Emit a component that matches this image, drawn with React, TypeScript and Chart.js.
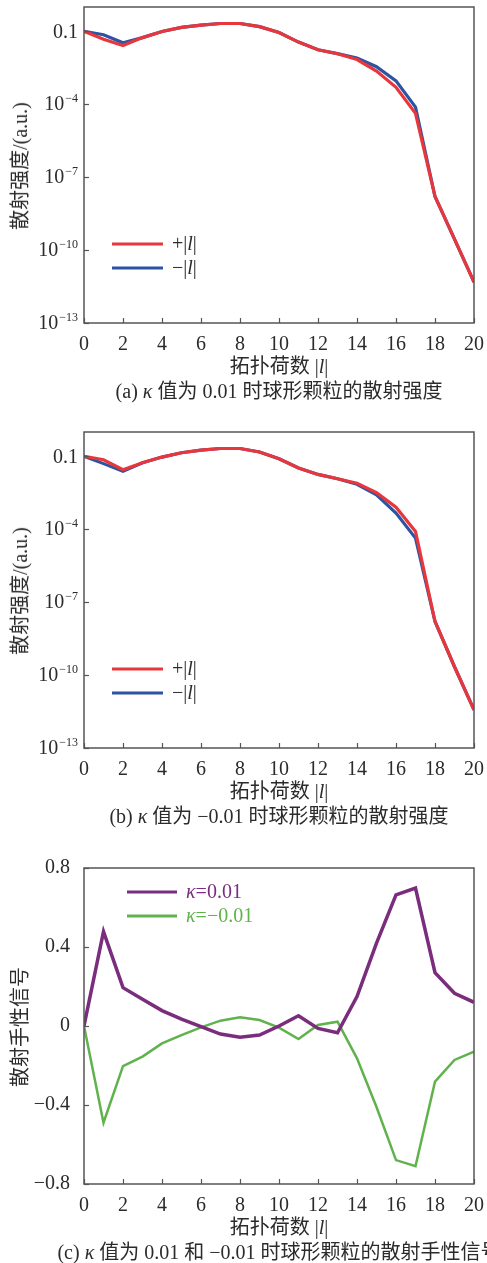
import React, { useEffect, useRef } from "react";
import { Chart, registerables } from "chart.js";

Chart.register(...registerables);

// ---------- data ----------
const lValues = [0, 1, 2, 3, 4, 5, 6, 7, 8, 9, 10, 11, 12, 13, 14, 15, 16, 17, 18, 19, 20];
const xTickValues = [0, 2, 4, 6, 8, 10, 12, 14, 16, 18, 20];

const logTickValues = [1e-13, 1e-10, 1e-7, 1e-4, 1e-1];
const logTickBases = ["10", "10", "10", "10", "0.1"];
const logTickExponents = ["−13", "−10", "−7", "−4", ""];

const chiTickValues = [-0.8, -0.4, 0, 0.4, 0.8];
const chiTickLabels = ["−0.8", "−0.4", "0", "0.4", "0.8"];

// (a) kappa = 0.01
const intensityAPlus = [1.0e-1, 4.7e-2, 2.6e-2, 5.5e-2, 9.8e-2, 1.45e-1, 1.8e-1, 2.1e-1, 2.1e-1, 1.55e-1, 8.9e-2, 3.6e-2, 1.75e-2, 1.2e-2, 6.9e-3, 2.3e-3, 5.0e-4, 4.2e-5, 1.6e-8, 2.8e-10, 4.8e-12];
const intensityAMinus = [1.0e-1, 7.2e-2, 3.4e-2, 5.5e-2, 9.8e-2, 1.45e-1, 1.8e-1, 2.1e-1, 2.1e-1, 1.55e-1, 8.9e-2, 3.6e-2, 1.75e-2, 1.2e-2, 7.9e-3, 3.5e-3, 9.1e-4, 7.6e-5, 1.6e-8, 2.8e-10, 4.8e-12];

// (b) kappa = -0.01
const intensityBPlus = [1.0e-1, 7.2e-2, 2.8e-2, 5.4e-2, 9.3e-2, 1.4e-1, 1.8e-1, 2.1e-1, 2.1e-1, 1.5e-1, 7.9e-2, 3.3e-2, 1.8e-2, 1.2e-2, 7.8e-3, 3.2e-3, 8.1e-4, 8.1e-5, 1.6e-8, 2.2e-10, 3.7e-12];
const intensityBMinus = [1.0e-1, 5.0e-2, 2.4e-2, 5.4e-2, 9.3e-2, 1.4e-1, 1.8e-1, 2.1e-1, 2.1e-1, 1.5e-1, 7.9e-2, 3.3e-2, 1.8e-2, 1.2e-2, 7.1e-3, 2.6e-3, 4.6e-4, 4.3e-5, 1.6e-8, 2.2e-10, 3.7e-12];

// (c) chirality signal
const chiralityPos = [0, 0.478, 0.194, 0.135, 0.078, 0.035, -0.003, -0.041, -0.057, -0.046, 0.0, 0.052, -0.012, -0.034, 0.149, 0.42, 0.664, 0.698, 0.27, 0.166, 0.12];
const chiralityNeg = [0, -0.49, -0.203, -0.155, -0.088, -0.046, -0.007, 0.027, 0.044, 0.03, -0.008, -0.066, 0.005, 0.022, -0.164, -0.41, -0.679, -0.71, -0.282, -0.172, -0.13];

// ---------- styles ----------
const FONT = '"Liberation Serif", "DejaVu Serif", "Noto Sans CJK SC", serif';
const FS = 20;
const EXP_FS = 12;
const TEXT = "#2b2b2b";
const AXIS = "#555555";
const RED = "#e8373c";
const BLUE = "#2c54a3";
const PURPLE = "#7a2c7d";
const GREEN = "#5fb24c";
const CANVAS_W = 487;
const CANVAS_H = 370;
const CANVAS_SHIFT = 10; // canvas starts this far above the panel offset
const PLOT_TOP = 7 + CANVAS_SHIFT;
const PLOT_BOTTOM = 323 + CANVAS_SHIFT;
const Y_LABEL_PAD = 6;

type Part = { t: string; i?: boolean };
type LegendItem = { parts: Part[]; color?: string };

const framePlugin = {
  id: "frame",
  afterDraw(chart: any, _args: any, opts: any) {
    const { ctx, chartArea: a, scales } = chart;
    ctx.save();
    ctx.strokeStyle = AXIS;
    ctx.lineWidth = 1.5;
    ctx.strokeRect(a.left, a.top, a.right - a.left, a.bottom - a.top);
    ctx.lineWidth = 1.2;
    const xs = scales.x;
    xs.ticks.forEach((t: any) => {
      const px = Math.round(xs.getPixelForValue(t.value)) + 0.5;
      ctx.beginPath();
      ctx.moveTo(px, a.bottom);
      ctx.lineTo(px, a.bottom - 5);
      ctx.stroke();
    });
    const ys = scales.y;
    ys.ticks.forEach((t: any) => {
      const py = Math.round(ys.getPixelForValue(t.value)) + 0.5;
      ctx.beginPath();
      ctx.moveTo(a.left, py);
      ctx.lineTo(a.left + 5, py);
      ctx.stroke();
    });

    // log-axis labels with real superscripts
    if (opts && opts.powerLabels) {
      ctx.fillStyle = TEXT;
      ctx.textBaseline = "middle";
      ctx.textAlign = "left";
      ys.ticks.forEach((t: any, i: number) => {
        const py = ys.getPixelForValue(t.value);
        const base = logTickBases[i];
        const exp = logTickExponents[i];
        ctx.font = `${FS}px ${FONT}`;
        const wb = ctx.measureText(base).width;
        ctx.font = `${EXP_FS}px ${FONT}`;
        const we = exp ? ctx.measureText(exp).width + 1 : 0;
        const right = a.left - Y_LABEL_PAD;
        const x0 = right - wb - we;
        ctx.font = `${FS}px ${FONT}`;
        ctx.fillText(base, x0, py + 1);
        if (exp) {
          ctx.font = `${EXP_FS}px ${FONT}`;
          ctx.fillText(exp, x0 + wb + 1, py - 5);
        }
      });
    }

    const lg = opts && opts.legend;
    if (lg) {
      ctx.textBaseline = "middle";
      ctx.textAlign = "left";
      (lg.items as LegendItem[]).forEach((item, idx) => {
        const ds = chart.data.datasets[idx];
        const y = a.top + lg.y + idx * lg.gap;
        const x0 = a.left + lg.x;
        ctx.strokeStyle = ds.borderColor;
        ctx.lineWidth = 3;
        ctx.beginPath();
        ctx.moveTo(x0, y);
        ctx.lineTo(x0 + lg.len, y);
        ctx.stroke();
        let x = x0 + lg.len + lg.textGap;
        ctx.fillStyle = item.color || TEXT;
        item.parts.forEach((p) => {
          ctx.font = `${p.i ? "italic " : ""}${FS}px ${FONT}`;
          ctx.fillText(p.t, x, y + 1);
          x += ctx.measureText(p.t).width;
        });
      });
    }
    ctx.restore();
  },
};

function makeXScale() {
  return {
    type: "linear",
    min: 0,
    max: 20,
    grid: { display: false },
    border: { display: false },
    afterBuildTicks: (s: any) => {
      s.ticks = xTickValues.map((v) => ({ value: v }));
    },
    afterFit: (s: any) => {
      s.height = CANVAS_H - PLOT_BOTTOM;
      s.paddingLeft = 0;
      s.paddingRight = 0;
    },
    ticks: {
      autoSkip: false,
      maxRotation: 0,
      padding: 2,
      color: TEXT,
      font: { family: FONT, size: FS },
      callback: (_v: any, i: number) => String(xTickValues[i]),
    },
  };
}

function makeYScale(log: boolean) {
  const values = log ? logTickValues : chiTickValues;
  return {
    type: log ? "logarithmic" : "linear",
    min: log ? 1e-13 : -0.8,
    max: log ? 1 : 0.8,
    grid: { display: false },
    border: { display: false },
    afterBuildTicks: (s: any) => {
      s.ticks = values.map((v) => ({ value: v }));
    },
    afterFit: (s: any) => {
      s.width = 84;
      s.paddingTop = 0;
      s.paddingBottom = 0;
    },
    ticks: {
      display: !log,
      autoSkip: false,
      padding: Y_LABEL_PAD,
      color: TEXT,
      font: { family: FONT, size: FS },
      callback: (_v: any, i: number) => (log ? logTickBases[i] + logTickExponents[i] : chiTickLabels[i]),
    },
  };
}

function lineDataset(label: string, values: number[], color: string, width: number) {
  return {
    label,
    data: lValues.map((l, i) => ({ x: l, y: values[i] })),
    borderColor: color,
    backgroundColor: color,
    borderWidth: width,
    pointRadius: 0,
    tension: 0,
    fill: false,
  };
}

function makeConfig(kind: "a" | "b" | "c"): any {
  let datasets: any[];
  let legend: any;
  if (kind === "c") {
    datasets = [
      lineDataset("κ=0.01", chiralityPos, PURPLE, 3.5),
      lineDataset("κ=−0.01", chiralityNeg, GREEN, 2.5),
    ];
    legend = {
      x: 43, y: 24, gap: 24, len: 50, textGap: 9,
      items: [
        { parts: [{ t: "κ", i: true }, { t: "=0.01" }], color: PURPLE },
        { parts: [{ t: "κ", i: true }, { t: "=−0.01" }], color: GREEN },
      ],
    };
  } else {
    const plus = kind === "a" ? intensityAPlus : intensityBPlus;
    const minus = kind === "a" ? intensityAMinus : intensityBMinus;
    datasets = [
      lineDataset("+|l|", plus, RED, 3.2),
      lineDataset("−|l|", minus, BLUE, 3.2),
    ];
    legend = {
      x: 28, y: 237, gap: 24, len: 51, textGap: 9,
      items: [
        { parts: [{ t: "+|" }, { t: "l", i: true }, { t: "|" }] },
        { parts: [{ t: "−|" }, { t: "l", i: true }, { t: "|" }] },
      ],
    };
  }
  return {
    type: "line",
    data: { datasets },
    options: {
      animation: false,
      responsive: false,
      maintainAspectRatio: false,
      devicePixelRatio: 1,
      layout: { padding: { top: PLOT_TOP, right: 13, left: 0, bottom: 0 } },
      scales: { x: makeXScale(), y: makeYScale(kind !== "c") },
      plugins: {
        legend: { display: false },
        tooltip: { enabled: false },
        frame: { legend, powerLabels: kind !== "c" },
      },
    },
    plugins: [framePlugin],
  };
}

function ChartCanvas({ kind, top }: { kind: "a" | "b" | "c"; top: number }) {
  const ref = useRef<HTMLCanvasElement>(null);
  useEffect(() => {
    const chart = new Chart(ref.current as HTMLCanvasElement, makeConfig(kind));
    return () => chart.destroy();
  }, [kind]);
  return (
    <canvas
      ref={ref}
      width={CANVAS_W}
      height={CANVAS_H}
      style={{ position: "absolute", left: 0, top: top - CANVAS_SHIFT, width: CANVAS_W, height: CANVAS_H, display: "block" }}
    />
  );
}

const textBase: React.CSSProperties = {
  position: "absolute",
  fontFamily: FONT,
  fontSize: FS,
  lineHeight: "22px",
  color: TEXT,
  whiteSpace: "nowrap",
  transform: "translate(-50%, -50%)",
};

function CenterText({ cx, cy, children }: { cx: number; cy: number; children: React.ReactNode }) {
  return <div style={{ ...textBase, left: cx, top: cy }}>{children}</div>;
}

function VertText({ cx, cy, children }: { cx: number; cy: number; children: React.ReactNode }) {
  return (
    <div style={{ ...textBase, left: cx, top: cy, transform: "translate(-50%, -50%) rotate(-90deg)" }}>
      {children}
    </div>
  );
}

function Panel({ kind, offset, yTitle, caption }: { kind: "a" | "b" | "c"; offset: number; yTitle: string; caption: React.ReactNode }) {
  return (
    <>
      <ChartCanvas kind={kind} top={offset} />
      <VertText cx={20} cy={offset + 166}>{yTitle}</VertText>
      <CenterText cx={279} cy={offset + 366}>
        拓扑荷数 |<i>l</i>|
      </CenterText>
      <CenterText cx={279} cy={offset + 391}>{caption}</CenterText>
    </>
  );
}

export default function App() {
  return (
    <div
      style={{
        position: "absolute",
        left: 0,
        top: 0,
        width: 487,
        height: 1263,
        overflow: "hidden",
        background: "#ffffff",
      }}
    >
      <Panel
        kind="a"
        offset={0}
        yTitle="散射强度/(a.u.)"
        caption={<>(a) <i>κ</i> 值为 0.01 时球形颗粒的散射强度</>}
      />
      <Panel
        kind="b"
        offset={425}
        yTitle="散射强度/(a.u.)"
        caption={<>(b) <i>κ</i> 值为 −0.01 时球形颗粒的散射强度</>}
      />
      <Panel
        kind="c"
        offset={861}
        yTitle="散射手性信号"
        caption={<>(c) <i>κ</i> 值为 0.01 和 −0.01 时球形颗粒的散射手性信号</>}
      />
    </div>
  );
}
